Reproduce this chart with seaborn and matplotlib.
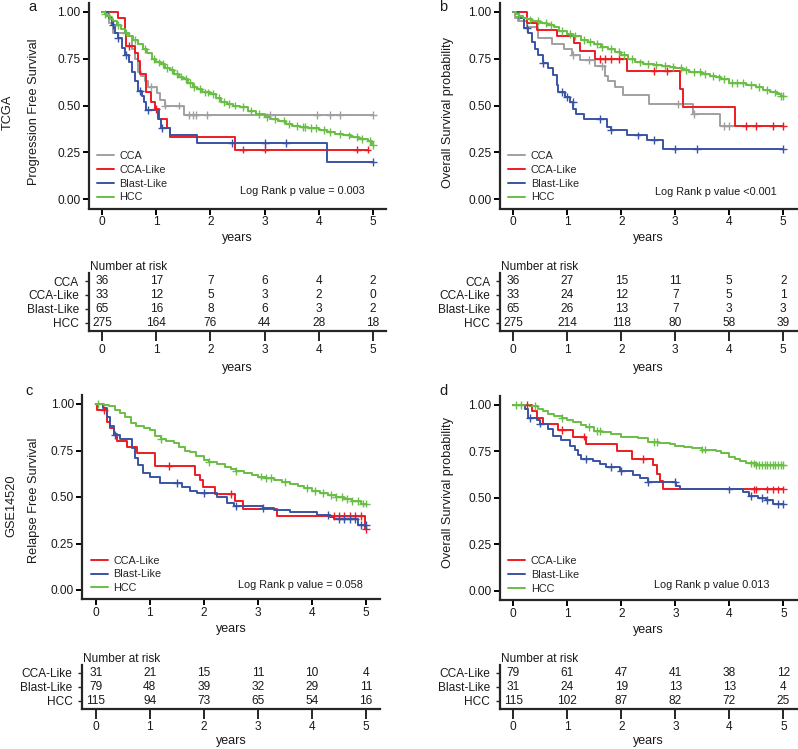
import numpy as np
import pandas as pd
import matplotlib
matplotlib.use("Agg")
import matplotlib.pyplot as plt
import seaborn as sns

# ---------------- data ----------------
COLORS = {"CCA": "#A0A0A0", "CCA-Like": "#ED1C24", "Blast-Like": "#3953A4", "HCC": "#6ABD45"}
GROUPS_AB = ["CCA", "CCA-Like", "Blast-Like", "HCC"]
GROUPS_CD = ["CCA-Like", "Blast-Like", "HCC"]
RISK_TIMES = [0, 1, 2, 3, 4, 5]

# Panel a (TCGA, progression free survival)
a_cca_t = [0, 0.12, 0.21, 0.46, 0.55, 0.61, 0.66, 0.72, 0.79, 0.85, 1.01, 1.07, 1.16, 1.52]
a_cca_s = [1.0, 0.94, 0.89, 0.87, 0.80, 0.75, 0.68, 0.66, 0.63, 0.60, 0.565, 0.53, 0.50, 0.45]
a_cca_end = 5.0
a_cca_cens = [0.9, 1.16, 1.42, 1.6, 1.68, 1.74, 1.93, 3.1, 3.96, 4.2, 4.39, 5.0]
a_ccal_t = [0, 0.30, 0.42, 0.45, 0.61, 0.66, 0.70, 0.82, 0.90, 0.97, 1.06, 1.2, 1.25, 2.45]
a_ccal_s = [1.0, 0.97, 0.89, 0.82, 0.78, 0.74, 0.67, 0.57, 0.52, 0.48, 0.43, 0.38, 0.33, 0.265]
a_ccal_end = 4.9
a_ccal_cens = [0.5, 1.0, 2.6, 3.0, 4.7, 4.9]
a_bl_t = [0, 0.13, 0.18, 0.23, 0.30, 0.36, 0.42, 0.49, 0.55, 0.60, 0.66, 0.73, 0.78, 0.82, 1.03, 1.09, 1.25, 1.75, 4.15]
a_bl_s = [1.0, 0.97, 0.93, 0.89, 0.86, 0.81, 0.77, 0.73, 0.68, 0.63, 0.58, 0.55, 0.52, 0.475, 0.43, 0.38, 0.34, 0.30, 0.20]
a_bl_end = 5.0
a_bl_cens = [0.2, 0.3, 0.45, 0.7, 0.85, 1.1, 2.4, 3.0, 3.4, 5.0]
a_hcc_t = [0, 0.05, 0.1, 0.15, 0.2, 0.28, 0.35, 0.42, 0.5, 0.58, 0.66, 0.75, 0.83, 0.92, 1.0, 1.08,
           1.17, 1.25, 1.33, 1.42, 1.5, 1.58, 1.67, 1.75, 1.85, 2.0, 2.1, 2.2, 2.3, 2.42, 2.55, 2.7,
           2.85, 3.0, 3.1, 3.25, 3.4, 3.5, 3.65, 3.8, 4.0, 4.15, 4.3, 4.45, 4.6, 4.75, 4.9, 4.98]
a_hcc_s = [1.0, 0.99, 0.98, 0.96, 0.95, 0.93, 0.91, 0.89, 0.87, 0.85, 0.83, 0.80, 0.78, 0.75, 0.73, 0.72,
           0.70, 0.69, 0.67, 0.655, 0.64, 0.62, 0.60, 0.59, 0.57, 0.56, 0.54, 0.52, 0.51, 0.50, 0.49, 0.47,
           0.455, 0.44, 0.43, 0.42, 0.40, 0.39, 0.385, 0.38, 0.37, 0.36, 0.35, 0.34, 0.33, 0.32, 0.31, 0.29]
a_hcc_end = 5.0
a_hcc_cens = [0.05, 0.12, 0.3, 0.45, 0.6, 0.8, 0.95, 1.05, 1.12, 1.2, 1.3, 1.38, 1.45, 1.55, 1.62, 1.7,
              1.8, 1.9, 1.95, 2.05, 2.15, 2.25, 2.35, 2.45, 2.6, 2.75, 2.9, 3.05, 3.2, 3.35, 3.45, 3.6,
              3.7, 3.75, 3.85, 3.95, 4.1, 4.2, 4.4, 4.55, 4.7, 4.8, 4.95, 5.0]
a_risk_cca = [36, 17, 7, 6, 4, 2]
a_risk_ccal = [33, 12, 5, 3, 2, 0]
a_risk_bl = [65, 16, 8, 6, 3, 2]
a_risk_hcc = [275, 164, 76, 44, 28, 18]

# Panel b (TCGA, overall survival)
b_cca_t = [0, 0.03, 0.09, 0.25, 0.46, 0.71, 0.93, 1.08, 1.24, 1.51, 1.70, 1.76, 1.88, 2.03, 2.52, 3.33, 3.83]
b_cca_s = [1.0, 0.97, 0.95, 0.92, 0.86, 0.83, 0.80, 0.77, 0.745, 0.71, 0.66, 0.63, 0.60, 0.555, 0.51, 0.455, 0.39]
b_cca_end = 4.1
b_cca_cens = [1.1, 1.4, 1.65, 3.05, 3.35, 3.9, 4.0]
b_ccal_t = [0, 0.25, 0.43, 0.81, 1.12, 1.24, 1.51, 2.10, 3.09, 3.15, 4.1]
b_ccal_s = [1.0, 0.94, 0.905, 0.87, 0.835, 0.79, 0.75, 0.685, 0.59, 0.49, 0.39]
b_ccal_end = 5.0
b_ccal_cens = [1.6, 1.7, 1.8, 1.95, 2.6, 2.85, 4.3, 4.5, 4.8, 5.0]
b_bl_t = [0, 0.1, 0.19, 0.28, 0.34, 0.40, 0.46, 0.55, 0.65, 0.74, 0.80, 0.83, 0.96, 1.05, 1.11, 1.17, 1.30,
          1.73, 1.80, 2.1, 2.47, 2.78]
b_bl_s = [1.0, 0.968, 0.914, 0.887, 0.84, 0.80, 0.77, 0.726, 0.70, 0.663, 0.609, 0.573, 0.546, 0.52, 0.48,
          0.457, 0.43, 0.385, 0.37, 0.34, 0.315, 0.27]
b_bl_end = 5.0
b_bl_cens = [0.25, 0.55, 0.9, 1.0, 1.1, 1.6, 1.8, 2.3, 2.6, 3.0, 3.4, 5.0]
b_hcc_t = [0, 0.05, 0.1, 0.18, 0.25, 0.35, 0.5, 0.62, 0.75, 0.85, 1.0, 1.1, 1.25, 1.38, 1.5, 1.62, 1.75,
           1.88, 2.0, 2.12, 2.25, 2.4, 2.6, 2.75, 2.9, 3.0, 3.15, 3.25, 3.5, 3.65, 3.75, 3.85, 4.0, 4.3,
           4.5, 4.62, 4.75, 4.88, 4.95]
b_hcc_s = [1.0, 0.99, 0.98, 0.97, 0.96, 0.95, 0.94, 0.93, 0.92, 0.90, 0.88, 0.87, 0.85, 0.84, 0.83, 0.815,
           0.80, 0.785, 0.77, 0.75, 0.73, 0.72, 0.715, 0.71, 0.705, 0.70, 0.69, 0.68, 0.67, 0.66, 0.65,
           0.64, 0.62, 0.61, 0.60, 0.585, 0.57, 0.56, 0.55]
b_hcc_end = 5.0
b_hcc_cens = [0.1, 0.3, 0.45, 0.6, 0.7, 0.9, 1.05, 1.15, 1.3, 1.42, 1.55, 1.65, 1.8, 1.95, 2.05, 2.2, 2.35,
              2.5, 2.65, 2.8, 2.95, 3.1, 3.2, 3.35, 3.45, 3.55, 3.7, 3.8, 3.9, 4.05, 4.15, 4.25, 4.4,
              4.55, 4.7, 4.85, 4.95, 5.0]
b_risk_cca = [36, 27, 15, 11, 5, 2]
b_risk_ccal = [33, 24, 12, 7, 5, 1]
b_risk_bl = [65, 26, 13, 7, 3, 3]
b_risk_hcc = [275, 214, 118, 80, 58, 39]

# Panel c (GSE14520, relapse free survival)
c_ccal_t = [0, 0.02, 0.2, 0.27, 0.33, 0.39, 0.57, 0.76, 1.1, 1.84, 1.93, 1.99, 2.21, 2.58, 2.72, 3.35, 4.98]
c_ccal_s = [1.0, 0.97, 0.905, 0.87, 0.84, 0.80, 0.77, 0.735, 0.665, 0.62, 0.59, 0.555, 0.515, 0.48, 0.435, 0.40, 0.33]
c_ccal_end = 5.0
c_ccal_cens = [0.15, 1.35, 2.5, 4.4, 4.5, 4.6, 4.7, 4.8, 4.9, 5.0]
c_bl_t = [0, 0.14, 0.2, 0.27, 0.33, 0.45, 0.67, 0.73, 0.79, 0.88, 1.0, 1.19, 1.59, 1.74, 1.87, 2.24, 2.42,
          2.55, 3.1, 3.29, 3.6, 4.09, 4.33, 4.4, 4.86]
c_bl_s = [1.0, 0.98, 0.93, 0.88, 0.835, 0.81, 0.765, 0.71, 0.67, 0.63, 0.61, 0.575, 0.555, 0.53, 0.52,
          0.50, 0.47, 0.45, 0.44, 0.43, 0.42, 0.405, 0.39, 0.38, 0.35]
c_bl_end = 5.0
c_bl_cens = [0.35, 1.5, 2.0, 2.6, 3.1, 4.3, 4.5, 4.6, 4.7, 4.8, 4.9, 5.0]
c_hcc_t = [0, 0.15, 0.25, 0.35, 0.45, 0.55, 0.65, 0.75, 0.9, 1.0, 1.1, 1.2, 1.3, 1.45, 1.55, 1.65, 1.75,
           1.85, 2.0, 2.1, 2.25, 2.4, 2.5, 2.6, 2.75, 2.9, 3.0, 3.15, 3.3, 3.45, 3.6, 3.75, 3.85, 4.0,
           4.15, 4.3, 4.45, 4.6, 4.75, 4.9]
c_hcc_s = [1.0, 0.995, 0.99, 0.97, 0.95, 0.93, 0.90, 0.88, 0.87, 0.86, 0.83, 0.81, 0.80, 0.79, 0.77, 0.75,
           0.74, 0.72, 0.70, 0.69, 0.68, 0.66, 0.65, 0.64, 0.63, 0.62, 0.61, 0.60, 0.59, 0.58, 0.57, 0.56,
           0.55, 0.53, 0.52, 0.51, 0.50, 0.49, 0.48, 0.465]
c_hcc_end = 5.0
c_hcc_cens = [0.05, 1.2, 2.1, 2.6, 3.05, 3.15, 3.25, 3.5, 3.9, 4.05, 4.2, 4.35, 4.45, 4.55, 4.65, 4.75,
              4.85, 4.95, 5.0]
c_risk_ccal = [31, 21, 15, 11, 10, 4]
c_risk_bl = [79, 48, 39, 32, 29, 11]
c_risk_hcc = [115, 94, 73, 65, 54, 16]

# Panel d (GSE14520, overall survival)
d_ccal_t = [0, 0.34, 0.43, 0.55, 0.83, 1.11, 1.35, 1.91, 2.19, 2.59, 2.65, 2.71, 2.77]
d_ccal_s = [1.0, 0.97, 0.93, 0.90, 0.865, 0.83, 0.79, 0.75, 0.71, 0.675, 0.63, 0.59, 0.545]
d_ccal_end = 5.0
d_ccal_cens = [0.25, 0.9, 1.3, 2.4, 4.45, 4.5, 4.7, 4.8, 4.9, 5.0]
d_bl_t = [0, 0.22, 0.28, 0.43, 0.49, 0.65, 0.74, 0.89, 1.05, 1.14, 1.2, 1.26, 1.48, 1.6, 1.72, 1.97, 2.22,
          2.34, 2.49, 3.02, 3.08, 4.25, 4.37, 4.53, 4.68, 4.8]
d_bl_s = [1.0, 0.98, 0.93, 0.92, 0.90, 0.87, 0.835, 0.81, 0.78, 0.755, 0.73, 0.71, 0.70, 0.68, 0.665, 0.645,
          0.625, 0.605, 0.585, 0.565, 0.545, 0.53, 0.51, 0.50, 0.49, 0.465]
d_bl_end = 5.0
d_bl_cens = [0.3, 0.5, 1.35, 1.8, 2.0, 2.5, 3.0, 4.0, 4.4, 4.6, 4.7, 4.9, 5.0]
d_hcc_t = [0, 0.3, 0.45, 0.55, 0.65, 0.75, 0.9, 1.0, 1.1, 1.25, 1.35, 1.5, 1.65, 1.8, 2.0, 2.15, 2.3, 2.5,
           2.7, 2.9, 3.0, 3.15, 3.3, 3.5, 3.75, 3.85, 4.0, 4.1, 4.2, 4.3, 4.4, 4.5]
d_hcc_s = [1.0, 0.995, 0.98, 0.97, 0.95, 0.94, 0.93, 0.92, 0.91, 0.89, 0.88, 0.86, 0.855, 0.845, 0.83,
           0.825, 0.82, 0.80, 0.795, 0.79, 0.78, 0.775, 0.77, 0.76, 0.75, 0.74, 0.72, 0.71, 0.70, 0.69,
           0.685, 0.675]
d_hcc_end = 5.0
d_hcc_cens = [0.05, 0.15, 0.4, 0.9, 1.4, 1.55, 1.6, 2.6, 2.65, 3.5, 3.55, 4.4, 4.45, 4.5, 4.55, 4.6,
              4.65, 4.7, 4.75, 4.8, 4.85, 4.9, 4.95, 5.0]
d_risk_ccal = [79, 61, 47, 41, 38, 12]
d_risk_bl = [31, 24, 19, 13, 13, 4]
d_risk_hcc = [115, 102, 87, 82, 72, 25]

PANELS = [
    dict(letter="a", groups=GROUPS_AB,
         curves={"CCA": (a_cca_t, a_cca_s, a_cca_end, a_cca_cens),
                 "CCA-Like": (a_ccal_t, a_ccal_s, a_ccal_end, a_ccal_cens),
                 "Blast-Like": (a_bl_t, a_bl_s, a_bl_end, a_bl_cens),
                 "HCC": (a_hcc_t, a_hcc_s, a_hcc_end, a_hcc_cens)},
         risk={"CCA": a_risk_cca, "CCA-Like": a_risk_ccal, "Blast-Like": a_risk_bl, "HCC": a_risk_hcc},
         ylabel="Progression Free Survival", ptext="Log Rank p value = 0.003"),
    dict(letter="b", groups=GROUPS_AB,
         curves={"CCA": (b_cca_t, b_cca_s, b_cca_end, b_cca_cens),
                 "CCA-Like": (b_ccal_t, b_ccal_s, b_ccal_end, b_ccal_cens),
                 "Blast-Like": (b_bl_t, b_bl_s, b_bl_end, b_bl_cens),
                 "HCC": (b_hcc_t, b_hcc_s, b_hcc_end, b_hcc_cens)},
         risk={"CCA": b_risk_cca, "CCA-Like": b_risk_ccal, "Blast-Like": b_risk_bl, "HCC": b_risk_hcc},
         ylabel="Overall Survival probability", ptext="Log Rank p value <0.001"),
    dict(letter="c", groups=GROUPS_CD,
         curves={"CCA-Like": (c_ccal_t, c_ccal_s, c_ccal_end, c_ccal_cens),
                 "Blast-Like": (c_bl_t, c_bl_s, c_bl_end, c_bl_cens),
                 "HCC": (c_hcc_t, c_hcc_s, c_hcc_end, c_hcc_cens)},
         risk={"CCA-Like": c_risk_ccal, "Blast-Like": c_risk_bl, "HCC": c_risk_hcc},
         ylabel="Relapse Free Survival", ptext="Log Rank p value = 0.058"),
    dict(letter="d", groups=GROUPS_CD,
         curves={"CCA-Like": (d_ccal_t, d_ccal_s, d_ccal_end, d_ccal_cens),
                 "Blast-Like": (d_bl_t, d_bl_s, d_bl_end, d_bl_cens),
                 "HCC": (d_hcc_t, d_hcc_s, d_hcc_end, d_hcc_cens)},
         risk={"CCA-Like": d_risk_ccal, "Blast-Like": d_risk_bl, "HCC": d_risk_hcc},
         ylabel="Overall Survival probability", ptext="Log Rank p value 0.013"),
]

# ---------------- layout (pixels) ----------------
W, H = 798, 749
LAYOUT = {
    "a": dict(main=(88.5, 2.6, 386.5, 208.5), table=(88.5, 272.7, 386.5, 331.0),
              letter=(32, 7), ylab=(34, 112), pt=(3.69, 0.043), tpad=2.5, tlab=4),
    "b": dict(main=(499.8, 2.6, 796.8, 208.5), table=(499.8, 272.7, 796.8, 331.0),
              letter=(443, 7), ylab=(447.5, 112), pt=(3.75, 0.04), tpad=2.5, tlab=4),
    "c": dict(main=(82.2, 394.7, 379.5, 599.3), table=(82.2, 664.6, 379.5, 709.0),
              letter=(29, 391), ylab=(33.5, 500), pt=(3.78, 0.027), tpad=2, tlab=1.2),
    "d": dict(main=(499.8, 395.7, 797.0, 600.0), table=(499.8, 664.6, 797.0, 709.0),
              letter=(443, 391), ylab=(447.5, 492), pt=(3.67, 0.03), tpad=2, tlab=1.2),
}

sns.set_theme(style="ticks")
plt.rcParams["font.family"] = ["Liberation Sans", "DejaVu Sans"]
plt.rcParams["axes.linewidth"] = 1.6
plt.rcParams["xtick.major.width"] = 1.4
plt.rcParams["ytick.major.width"] = 1.4

fig = plt.figure(figsize=(W / 100, H / 100), dpi=100)


def add_ax(box):
    l, t, r, b = box
    return fig.add_axes([l / W, 1 - b / H, (r - l) / W, (b - t) / H])


def ftext(x, y, s, **kw):
    fig.text(x / W, 1 - y / H, s, **kw)


def surv_at(times, survs, t):
    idx = np.searchsorted(np.asarray(times), t, side="right") - 1
    return survs[max(idx, 0)]


TXT = "#1a1a1a"
for p in PANELS:
    lay = LAYOUT[p["letter"]]
    groups = p["groups"]
    ax = add_ax(lay["main"])
    rows, cens_rows = [], []
    for g in groups:
        t, s, end, cens = p["curves"][g]
        for ti, si in zip(t, s):
            rows.append((g, ti, si))
        rows.append((g, end, s[-1]))
        for c in cens:
            cens_rows.append((g, c, surv_at(t, s, c)))
    df = pd.DataFrame(rows, columns=["group", "time", "surv"])
    cdf = pd.DataFrame(cens_rows, columns=["group", "time", "surv"])
    sns.lineplot(data=df, x="time", y="surv", hue="group", hue_order=groups, palette=COLORS,
                 estimator=None, sort=False, drawstyle="steps-post", linewidth=1.4, ax=ax)
    sns.scatterplot(data=cdf, x="time", y="surv", hue="group", hue_order=groups, palette=COLORS,
                    marker="+", s=32, linewidth=1.0, legend=False, ax=ax, zorder=3)
    ax.set_xlim(-0.25, 5.25)
    ax.set_ylim(-0.05, 1.05)
    ax.set_xticks(RISK_TIMES)
    ax.set_yticks([0, 0.25, 0.5, 0.75, 1.0])
    ax.set_yticklabels(["0.00", "0.25", "0.50", "0.75", "1.00"])
    ax.tick_params(axis="both", length=4, labelsize=8.6, pad=2, colors="black", labelcolor=TXT)
    ax.tick_params(axis="x", pad=1.5)
    ax.set_xlabel("years", fontsize=9, color=TXT, labelpad=3)
    ax.set_ylabel("")
    sns.despine(ax=ax)
    sns.move_legend(ax, "lower left", bbox_to_anchor=(0.028, 0.03), frameon=False, title=None,
                    fontsize=7.8, handlelength=1.6, handletextpad=0.5, labelspacing=0.35,
                    borderpad=0, borderaxespad=0)
    px, py = lay["pt"]
    ax.text(px, py, p["ptext"], ha="center", va="center", fontsize=7.8, color=TXT)

    # risk table
    axt = add_ax(lay["table"])
    n = len(groups)
    for i, g in enumerate(groups):
        yv = n - i
        for tt, v in zip(RISK_TIMES, p["risk"][g]):
            axt.text(tt, yv, str(v), ha="center", va="center", fontsize=8.6, color=TXT)
    axt.set_xlim(-0.25, 5.25)
    axt.set_ylim(0.4, n + 0.6)
    axt.set_xticks(RISK_TIMES)
    axt.set_yticks([n - i for i in range(n)])
    axt.set_yticklabels(groups)
    axt.tick_params(axis="x", length=7, labelsize=8.6, pad=lay["tpad"], labelcolor=TXT)
    axt.tick_params(axis="y", length=3, width=1.0, labelsize=8.6, pad=4, labelcolor=TXT)
    axt.set_xlabel("years", fontsize=9, color=TXT, labelpad=lay["tlab"])
    axt.set_facecolor("none")
    sns.despine(ax=axt)
    l, t, r, b = lay["table"]
    ftext(l + 1, t - 6, "Number at risk", ha="left", va="center", fontsize=8.6, color=TXT)

    # labels
    lx, ly = lay["letter"]
    ftext(lx, ly, p["letter"], ha="center", va="center", fontsize=10.5, color=TXT)
    yx, yy = lay["ylab"]
    ftext(yx, yy, p["ylabel"], ha="center", va="center", rotation=90, fontsize=9.2, color=TXT)

ftext(8, 112, "TCGA", ha="center", va="center", rotation=90, fontsize=9.2, color=TXT)
ftext(11, 506, "GSE14520", ha="center", va="center", rotation=90, fontsize=9.2, color=TXT)

fig.savefig("out.png", dpi=100, facecolor="white")
